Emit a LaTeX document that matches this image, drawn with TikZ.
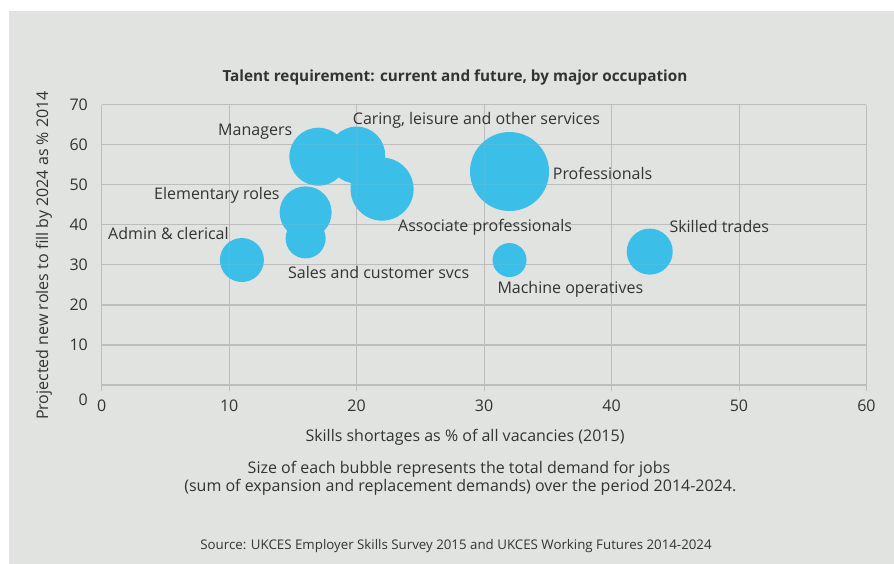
\documentclass[tikz,border=0pt]{standalone}
\usepackage{fontspec}
\setmainfont{Open Sans}
\definecolor{bg}{HTML}{E1E3E0}
\definecolor{bub}{HTML}{3BBFE9}
\definecolor{gridc}{HTML}{BDBDBD}
\definecolor{txt}{HTML}{333333}
\tikzset{
  bubble/.style={circle, fill=bub, inner sep=0pt, minimum size=#1},
  lab/.style={anchor=west, inner sep=0pt, text=txt, font=\fontsize{16}{19}\selectfont},
  tick/.style={inner sep=0pt, text=txt, font=\fontsize{16}{19}\selectfont},
  hgrid/.style={draw=gridc, line width=1.3pt},
  vgrid/.style={draw=gridc, line width=0.9pt},
}
\begin{document}
\begin{tikzpicture}[x=1pt,y=1pt]
\useasboundingbox (0,0) rectangle (894,564);
\fill[bg] (9,0) rectangle (894,553);
% title
\node[inner sep=0pt, text=txt, font=\bfseries\fontsize{15.3}{18}\selectfont] (title) at (455,486.5) {Talent requirement: current and future, by major occupation};
\begin{scope}[shift={(101.7,179)}, x=12.745pt, y=4.005pt]
  \foreach \v in {10,20,...,70} \draw[hgrid] (0,\v) -- (60,\v);
  \draw[hgrid] (0,0) -- (60,0);
  \foreach \u in {0,10,...,60} \draw[vgrid] (\u,70) -- (\u,-1.45);
  % bubbles
  \node[bubble=44pt] (admin) at (11,31.2) {};
  \node[bubble=40pt] (sales) at (16,36.6) {};
  \node[bubble=52pt] (elem) at (16,43.1) {};
  \node[bubble=58pt] (mgr) at (17,57) {};
  \node[bubble=57pt] (caring) at (20,57.4) {};
  \node[bubble=63pt] (assoc) at (22,48.9) {};
  \node[bubble=79pt] (prof) at (32,53.3) {};
  \node[bubble=34pt] (mach) at (32,31.2) {};
  \node[bubble=46pt] (skill) at (43,33.3) {};
  % faint grid through bubbles
  \begin{scope}[opacity=0.12]
  \foreach \v in {10,20,...,70} \draw[hgrid] (0,\v) -- (60,\v);
  \foreach \u in {10,20,...,60} \draw[vgrid] (\u,70) -- (\u,0);
  \end{scope}
  % y ticks
  \foreach \v in {10,20,...,70} \node[tick, anchor=east] (yt\v) at (-1.07,\v) {\v};
  \node[tick, anchor=east] (yt0) at (-1.07,-3.6) {0};
  % x ticks
  \foreach \u in {0,10,...,60} \node[tick] (xt\u) at (\u,-5.2) {\u};
\end{scope}
% bubble labels (left x, centre y from top)
\node[lab] (lmgr) at (218,432.3) {Managers};
\node[lab] (lcaring) at (352.7,443.3) {Caring, leisure and other services};
\node[lab] (lelem) at (154,368.6) {Elementary roles};
\node[lab] (ladmin) at (108,330.6) {Admin \& clerical};
\node[lab] (lassoc) at (398,336.3) {Associate professionals};
\node[lab] (lsales) at (288,291) {Sales and customer svcs};
\node[lab] (lprof) at (552.7,391) {Professionals};
\node[lab] (lskill) at (669.3,337.3) {Skilled trades};
\node[lab] (lmach) at (497.3,274.3) {Machine operatives};
% axis titles
\node[tick, rotate=90] (ytitle) at (44,308.5) {Projected new roles to fill by 2024 as \% 2014};
\node[tick] (xtitle) at (465,126.7) {Skills shortages as \% of all vacancies (2015)};
\node[tick] (note1) at (459,95) {Size of each bubble represents the total demand for jobs};
\node[tick] (note2) at (460.3,76.3) {(sum of expansion and replacement demands) over the period 2014-2024.};
\node[inner sep=0pt, text=txt, font=\fontsize{13.3}{16}\selectfont] (source) at (456,18.3) {Source: UKCES Employer Skills Survey 2015 and UKCES Working Futures 2014-2024};
\end{tikzpicture}
\end{document}
